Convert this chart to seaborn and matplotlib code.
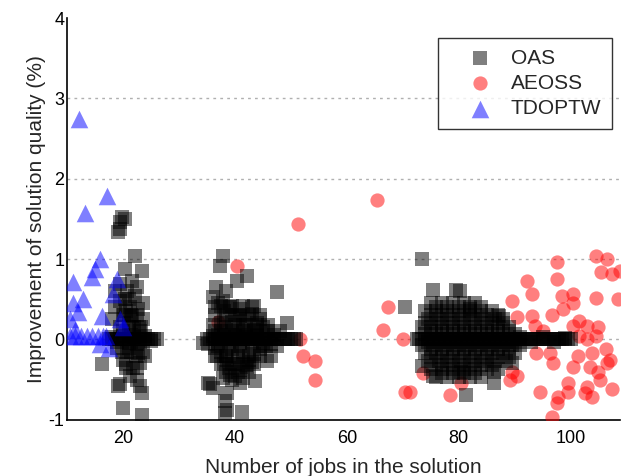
import matplotlib
matplotlib.use("Agg")
import matplotlib.pyplot as plt
import seaborn as sns
import pandas as pd

# ---------------- data ----------------
series_names = ["OAS", "AEOSS", "TDOPTW"]
x_ticks = [20, 40, 60, 80, 100]
y_ticks = [-1, 0, 1, 2, 3, 4]

# OAS, group around 20 jobs
oas1_x = [17.5, 18, 18.5, 19, 19.5, 20, 20.5, 21, 21.5, 22, 22.5, 23, 23.5, 24, 24.5, 25, 25.5, 26,
          18, 19, 20, 21, 22, 23, 24, 25,
          19.8, 19.5, 20.4, 19.5, 19.1, 22.1, 20.4, 23.4, 21.6, 19.5, 20.7, 22.5, 18.5,
          19.5, 18.6, 22.1, 23.6, 22.7, 23.6, 21.6, 20.5, 21, 22, 20, 23, 21.5, 18,
          19, 21, 22.5, 20.7, 22.7, 20, 23, 23.9, 16.25, 21.25, 19.5, 23, 23.4, 19.1,
          20, 23.4, 22.5, 21.8, 20.5, 21.2, 22.3, 20.2, 23.2,
          20, 21.5, 22.5, 19.5, 21, 22.8, 19.8, 21.5, 23.5, 20.5, 22.5, 21, 20.3]
oas1_y = [0, 0, 0, 0, 0, 0, 0, 0, 0, 0, 0, 0, 0, 0, 0, 0, 0, 0,
          0.03, -0.03, 0.04, -0.04, 0.03, -0.03, 0.04, -0.02,
          1.52, 1.37, 1.5, 1.46, 1.34, 1.04, 0.88, 0.85, 0.73, 0.69, 0.6, 0.65, 0.6,
          0.48, 0.41, 0.54, 0.46, 0.38, 0.25, 0.29, 0.35, 0.2, 0.15, 0.1, 0.1, 0.05, 0.25,
          -0.1, -0.1, -0.05, -0.15, -0.17, -0.25, -0.29, -0.21, -0.31, -0.46, -0.56, -0.58, -0.66, -0.58,
          -0.85, -0.94, -0.5, -0.35, -0.3, 0.4, -0.2, 0.3, 0.15,
          0.3, 0.3, 0.3, 0.15, 0.15, 0.15, -0.15, -0.15, -0.15, -0.35, -0.35, 0.5, 0.5]

# OAS, group around 40 jobs
oas2_x = [35, 35.5, 36, 36.5, 37, 37.5, 38, 38.5, 39, 39.5, 40, 40.5, 41, 41.5, 42, 42.5, 43, 43.5,
          44, 44.5, 45, 45.5, 46, 46.5, 47, 47.5, 48, 48.5, 49, 49.5, 50, 50.5, 51,
          36, 37, 38, 39, 40, 41, 42, 43, 44, 45,
          37.9, 37.3, 42.1, 40.4, 47.5, 38.5, 36.6,
          36.1, 37.9, 39.1, 36.4, 43, 40.9, 49.3, 44.5,
          37, 38, 39, 40, 41, 42, 43, 44, 45, 46,
          37.5, 38.5, 39.5, 40.5, 41.5, 42.5, 43.5, 36.5, 37, 39, 41, 44, 47,
          36.5, 37.5, 38.5, 39.5, 40.5, 41.5, 42.5, 43.5, 44.5, 45.5, 46.5,
          38, 39, 40, 41, 42, 43, 40, 41.5, 39.5,
          35.2, 36.8, 38.6, 45.7, 42.1, 39.1, 37.9, 35.2, 36.1, 40.9, 43.6,
          38.6, 38.2, 38.6, 41.2, 38.2, 34.3, 35.5,
          37.5, 39.5, 41.5, 43.5,
          36.5, 38.5, 40.5, 42.5, 44.5,
          36, 38, 40, 42, 44, 46,
          37.5, 39.5, 41.5, 43.5, 45.5, 48,
          37, 39, 41, 43, 45, 47.5,
          36.5, 38.5, 40.5, 42.5, 44.5, 46.5,
          37.5, 39.5, 41.5, 43.5,
          38.5, 40.5, 42.5]
oas2_y = [0, 0, 0, 0, 0, 0, 0, 0, 0, 0, 0, 0, 0, 0, 0, 0, 0, 0,
          0, 0, 0, 0, 0, 0, 0, 0, 0, 0, 0, 0, 0, 0, 0,
          0.04, -0.04, 0.03, -0.03, 0.04, -0.04, 0.03, -0.03, 0.04, -0.04,
          1.04, 0.91, 0.79, 0.73, 0.59, 0.6, 0.65,
          0.53, 0.48, 0.41, 0.4, 0.4, 0.29, 0.21, 0.25,
          0.45, 0.35, 0.4, 0.3, 0.38, 0.25, 0.32, 0.2, 0.15, 0.1,
          0.2, 0.15, 0.22, 0.12, 0.18, 0.08, 0.12, 0.1, 0.05, 0.05, 0.05, 0.05, 0.05,
          -0.1, -0.15, -0.2, -0.12, -0.22, -0.15, -0.25, -0.18, -0.12, -0.08, -0.05,
          -0.3, -0.35, -0.3, -0.38, -0.32, -0.28, -0.45, -0.48, -0.5,
          -0.06, -0.21, -0.25, -0.27, -0.34, -0.44, -0.48, -0.54, -0.6, -0.54, -0.52,
          -0.66, -0.77, -0.88, -0.9, -0.92, -0.04, -0.56,
          0.42, 0.42, 0.42, 0.42,
          0.3, 0.3, 0.3, 0.3, 0.3,
          0.18, 0.18, 0.18, 0.18, 0.18, 0.18,
          0.1, 0.1, 0.1, 0.1, 0.1, 0.1,
          -0.08, -0.08, -0.08, -0.08, -0.08, -0.08,
          -0.2, -0.2, -0.2, -0.2, -0.2, -0.2,
          -0.3, -0.3, -0.3, -0.3,
          -0.4, -0.4, -0.4]

# OAS, group around 80 jobs
oas3_x = [72.5, 73, 73.5, 74, 74.5, 75, 75.5, 76, 76.5, 77, 77.5, 78, 78.5, 79, 79.5, 80, 80.5, 81,
          81.5, 82, 82.5, 83, 83.5, 84, 84.5, 85, 85.5, 86, 86.5, 87, 87.5, 88, 88.5, 89, 89.5, 90,
          90.5, 91, 91.5, 92, 92.5, 93, 93.5, 94, 94.5, 95, 95.5, 96, 96.5, 97, 97.5, 98, 98.5, 99,
          99.5, 100, 91, 93, 95, 97, 99,
          73.4, 75.4, 79.6, 80.2, 70.4, 82, 87.3,
          73.4, 75.4, 80.5, 86.4, 86.4, 81.4, 89.6,
          75, 77, 79, 81, 83,
          74, 76, 78, 80, 82, 84, 86,
          74.5, 76.5, 78.5, 80.5, 82.5, 84.5, 86.5, 88,
          73.5, 75, 77, 79, 81, 83, 85, 87, 89,
          74, 76, 78, 80, 82, 84, 86, 88, 90,
          73.5, 75.5, 77.5, 79.5, 81.5, 83.5, 85.5, 87.5, 89.5, 91,
          74, 76, 78, 80, 82, 84, 86, 88, 90,
          74.5, 76.5, 78.5, 80.5, 82.5, 84.5, 86.5, 88.5,
          75, 77, 79, 81, 83, 85, 87,
          76, 78, 80, 82, 84,
          76, 78, 80, 82, 84,
          75, 77, 79, 81, 83, 85, 87,
          74, 76, 78, 80, 82, 84, 86, 88,
          75, 77, 79, 81, 83, 85, 87, 89,
          74.5, 76.5, 78.5, 80.5, 82.5, 84.5, 86.5, 88.5, 90.5,
          75, 77, 79, 81, 83, 85, 87, 89,
          75, 77, 79, 81, 83, 85, 87, 89,
          76, 78, 80, 82, 84, 86,
          77, 79, 81, 83]
oas3_y = [0, 0, 0, 0, 0, 0, 0, 0, 0, 0, 0, 0, 0, 0, 0, 0, 0, 0,
          0, 0, 0, 0, 0, 0, 0, 0, 0, 0, 0, 0, 0, 0, 0, 0, 0, 0,
          0, 0, 0, 0, 0, 0, 0, 0, 0, 0, 0, 0, 0, 0, 0, 0, 0, 0,
          0, 0, 0.03, -0.03, 0.03, -0.03, 0.02,
          1.0, 0.62, 0.62, 0.6, 0.4, 0.38, 0.29,
          -0.33, -0.46, -0.41, -0.41, -0.54, -0.69, -0.29,
          0.45, 0.45, 0.45, 0.45, 0.45,
          0.35, 0.35, 0.35, 0.35, 0.35, 0.35, 0.35,
          0.25, 0.25, 0.25, 0.25, 0.25, 0.25, 0.25, 0.25,
          0.15, 0.15, 0.15, 0.15, 0.15, 0.15, 0.15, 0.15, 0.15,
          0.07, 0.07, 0.07, 0.07, 0.07, 0.07, 0.07, 0.07, 0.07,
          -0.07, -0.07, -0.07, -0.07, -0.07, -0.07, -0.07, -0.07, -0.07, -0.07,
          -0.17, -0.17, -0.17, -0.17, -0.17, -0.17, -0.17, -0.17, -0.17,
          -0.27, -0.27, -0.27, -0.27, -0.27, -0.27, -0.27, -0.27,
          -0.37, -0.37, -0.37, -0.37, -0.37, -0.37, -0.37,
          -0.47, -0.47, -0.47, -0.47, -0.47,
          0.4, 0.4, 0.4, 0.4, 0.4,
          0.3, 0.3, 0.3, 0.3, 0.3, 0.3, 0.3,
          0.2, 0.2, 0.2, 0.2, 0.2, 0.2, 0.2, 0.2,
          0.1, 0.1, 0.1, 0.1, 0.1, 0.1, 0.1, 0.1,
          -0.03, -0.03, -0.03, -0.03, -0.03, -0.03, -0.03, -0.03, -0.03,
          -0.12, -0.12, -0.12, -0.12, -0.12, -0.12, -0.12, -0.12,
          -0.22, -0.22, -0.22, -0.22, -0.22, -0.22, -0.22, -0.22,
          -0.32, -0.32, -0.32, -0.32, -0.32, -0.32,
          -0.42, -0.42, -0.42, -0.42]

aeoss_x = [51.3, 40.4, 37.0, 51.6, 52.1, 54.3, 54.3, 65.4,
           67.3, 66.4, 70.0, 70.4, 71.3, 78.4, 80.5, 73.6,
           104.6, 106.6, 97.5, 105.5, 107.5, 108.8, 97.5, 92.3, 93.2, 98.4, 100.4, 100.4, 104.6, 108.4,
           89.6, 98.6, 96.6, 93.2, 90.4, 93.6, 95.0, 101.6, 102.9, 100.4, 104.9, 104.6, 101.6, 102.9,
           93.9, 96.3, 96.8, 101.3, 103.8, 106.4, 107.0, 106.6, 100.4, 103.4, 104.9, 105.2,
           89.6, 90.4, 89.1, 99.5, 102.9, 94.5, 99.5, 102.5, 107.5, 103.9, 97.7, 97.5, 96.6]
aeoss_y = [1.44, 0.91, 0.22, 0.0, -0.21, -0.27, -0.5, 1.73,
           0.4, 0.12, 0.0, -0.65, -0.65, -0.69, -0.54, -0.42,
           1.04, 1.0, 0.96, 0.84, 0.81, 0.85, 0.75, 0.73, 0.56, 0.54, 0.56, 0.46, 0.52, 0.5,
           0.48, 0.38, 0.31, 0.29, 0.28, 0.17, 0.1, 0.23, 0.17, 0.17, 0.15, 0.04, 0.04, 0.0,
           -0.17, -0.17, -0.29, -0.21, -0.17, -0.12, -0.25, -0.29, -0.34, -0.34, -0.41, -0.5,
           -0.4, -0.46, -0.5, -0.54, -0.59, -0.65, -0.65, -0.66, -0.62, -0.71, -0.71, -0.79, -0.96]

tdoptw_x = [12.1, 17.1, 13.2, 15.9, 15.0, 14.5, 11.1, 18.9, 18.2, 12.9, 11.1, 12.0, 16.25,
            10.5, 20.0, 19.5, 11.4, 10.5, 11.5, 12.5, 13.5, 14.5, 15.5, 16.5, 17.0, 15.9, 17.5]
tdoptw_y = [2.75, 1.79, 1.58, 1.0, 0.88, 0.78, 0.71, 0.75, 0.56, 0.5, 0.46, 0.34, 0.29,
            0.25, 0.16, 0.25, 0.12, 0.04, 0.04, 0.04, 0.04, 0.04, 0.04, 0.04, 0.04, -0.06, -0.1]

# ---------------- build frames ----------------
oas_df = pd.DataFrame({"x": oas1_x + oas2_x + oas3_x, "y": oas1_y + oas2_y + oas3_y})
aeoss_df = pd.DataFrame({"x": aeoss_x, "y": aeoss_y})
tdoptw_df = pd.DataFrame({"x": tdoptw_x, "y": tdoptw_y})

sns.set_style("white")
plt.rcParams["font.family"] = ["Liberation Sans", "DejaVu Sans"]

fig = plt.figure(figsize=(6.21, 4.76), dpi=100)
ax = fig.add_axes([0.108, 0.118, 0.890, 0.844])

sns.scatterplot(data=aeoss_df, x="x", y="y", ax=ax, color="red", marker="o",
                s=105, alpha=0.5, linewidth=0, zorder=3)
sns.scatterplot(data=oas_df, x="x", y="y", ax=ax, color="black", marker="s",
                s=100, alpha=0.5, linewidth=0, zorder=3)
sns.scatterplot(data=tdoptw_df, x="x", y="y", ax=ax, color="blue", marker="^",
                s=160, alpha=0.5, linewidth=0, zorder=4)

colls = ax.collections
handles = [colls[1], colls[0], colls[2]]
leg = ax.legend(handles, series_names, loc="upper right", bbox_to_anchor=(0.986, 0.95),
                fontsize=15, frameon=True, fancybox=False, edgecolor="black",
                handlelength=3.0, handletextpad=0.0, borderpad=0.5, labelspacing=0.3,
                borderaxespad=0.0)
leg.get_frame().set_linewidth(1.0)

ax.set_xlim(10, 108.8)
ax.set_ylim(-1, 4)
ax.set_xticks(x_ticks)
ax.set_yticks(y_ticks)
ax.set_yticklabels([str(v) for v in y_ticks])
ax.tick_params(axis="both", length=0, labelsize=13, colors="black")
ax.tick_params(axis="x", pad=7)
ax.tick_params(axis="y", pad=2)

ax.grid(axis="y", color="#b0b0b0", linestyle=(0, (2, 3)), linewidth=1.0, zorder=0)
ax.grid(axis="x", visible=False)
for gl, v in zip(ax.get_ygridlines(), y_ticks):
    if v in (-1, 4):
        gl.set_visible(False)
ax.set_axisbelow(True)

for side in ("top", "right"):
    ax.spines[side].set_visible(False)
for side in ("left", "bottom"):
    ax.spines[side].set_color("black")
    ax.spines[side].set_linewidth(1.2)

ax.set_xlabel("Number of jobs in the solution", fontsize=15, labelpad=8)
ax.set_ylabel("Improvement of solution quality (%)", fontsize=15, labelpad=2)

fig.savefig("out.png", dpi=100)
